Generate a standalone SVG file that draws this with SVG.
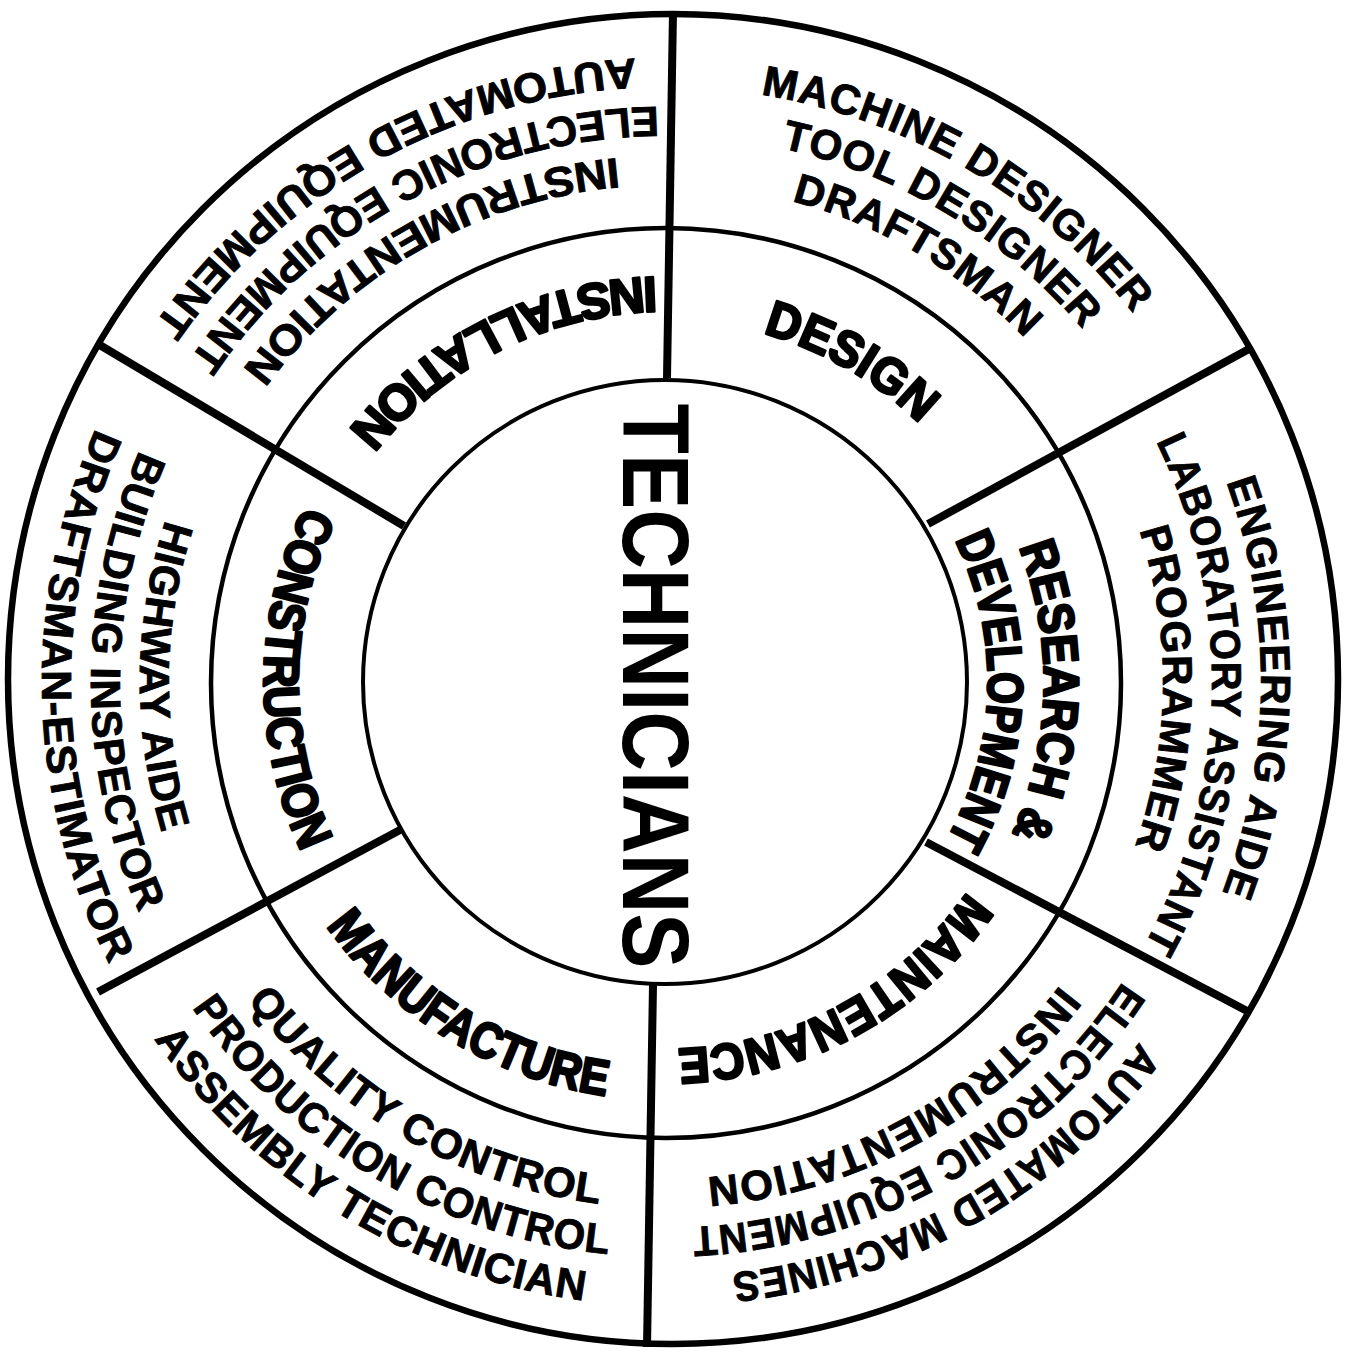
<svg xmlns="http://www.w3.org/2000/svg" width="1345" height="1356" viewBox="0 0 1345 1356">
<style>
.ring{fill:none;stroke:#000}
.div{stroke:#000;stroke-width:8;stroke-linecap:butt}
.job{font-family:"Liberation Sans",Arial,sans-serif;font-weight:bold;font-size:42px;fill:#000;stroke:#000;stroke-width:0.9;letter-spacing:1px}
.lab{font-family:"Liberation Sans",Arial,sans-serif;font-weight:bold;font-size:50px;fill:#000;stroke:#000;stroke-width:2.6;stroke-linejoin:round}
.title{font-family:"Liberation Sans",Arial,sans-serif;font-weight:bold;font-size:95px;fill:#000}
</style>
<defs>
<path id="cw595" d="M80.04,578.68 A595,595 0 0 1 1251.96,578.68"/>
<path id="cw546" d="M128.29,587.19 A546,546 0 0 1 1203.71,587.19"/>
<path id="cw497" d="M176.55,595.70 A497,497 0 0 1 1155.45,595.70"/>
<path id="ccw526" d="M1184.01,590.66 A526,526 0 0 0 147.99,590.66"/>
<path id="ccw575" d="M1232.27,582.15 A575,575 0 0 0 99.73,582.15"/>
<path id="ccw624" d="M1280.52,573.64 A624,624 0 0 0 51.48,573.64"/>
<path id="cw362" d="M309.50,619.14 A362,362 0 0 1 1022.50,619.14"/>
<path id="cw378" d="M293.74,616.36 A378,378 0 0 1 1038.26,616.36"/>
<path id="cw322" d="M348.89,626.08 A322,322 0 0 1 983.11,626.08"/>
<path id="cw367" d="M304.57,618.27 A367,367 0 0 1 1027.43,618.27"/>
<path id="ccw418" d="M1077.65,609.41 A418,418 0 0 0 254.35,609.41"/>
<path id="ccw402" d="M1061.89,612.19 A402,402 0 0 0 270.11,612.19"/>
<path id="ccw405" d="M1064.85,611.67 A405,405 0 0 0 267.15,611.67"/>
</defs>
<rect width="1345" height="1356" fill="#fff"/>
<g id="rings">
<circle class="ring" cx="673" cy="679" r="665" stroke-width="6.5"/>
<circle class="ring" cx="666" cy="683" r="455" stroke-width="4.5"/>
<circle class="ring" cx="665" cy="682" r="302" stroke-width="4"/>
</g>
<g id="connectors">
<line class="div" x1="667" y1="378" x2="673" y2="12"/>
<line class="div" x1="928" y1="524" x2="1249" y2="349"/>
<line class="div" x1="926" y1="842" x2="1249" y2="1012"/>
<line class="div" x1="653" y1="985" x2="647" y2="1347"/>
<line class="div" x1="400" y1="830" x2="98" y2="992"/>
<line class="div" x1="404" y1="526" x2="98" y2="344"/>
</g>
<g id="center">
<text class="title" transform="translate(623,686) rotate(90)" text-anchor="middle" textLength="565" lengthAdjust="spacingAndGlyphs">TECHNICIANS</text>
</g>
<g id="design">
<text class="lab" text-anchor="middle" transform="rotate(30 666 682)"><textPath href="#cw362" startOffset="50%" textLength="183" lengthAdjust="spacingAndGlyphs">DESIGN</textPath></text>
<text class="job" text-anchor="middle" transform="rotate(30.5 666 682)"><textPath href="#cw595" startOffset="50%">MACHINE DESIGNER</textPath></text>
<text class="job" text-anchor="middle" transform="rotate(31 666 682)"><textPath href="#cw546" startOffset="50%">TOOL DESIGNER</textPath></text>
<text class="job" text-anchor="middle" transform="rotate(30.5 666 682)"><textPath href="#cw497" startOffset="50%">DRAFTSMAN</textPath></text>
</g>
<g id="research">
<text class="lab" text-anchor="middle" transform="rotate(91.4 666 682)"><textPath href="#cw378" startOffset="50%" textLength="295" lengthAdjust="spacingAndGlyphs">RESEARCH &amp;</textPath></text>
<text class="lab" text-anchor="middle" transform="rotate(91.6 666 682)"><textPath href="#cw322" startOffset="50%" textLength="312" lengthAdjust="spacingAndGlyphs">DEVELOPMENT</textPath></text>
<text class="job" text-anchor="middle" transform="rotate(90.6 666 682)"><textPath href="#cw595" startOffset="50%">ENGINEERING AIDE</textPath></text>
<text class="job" text-anchor="middle" transform="rotate(91.4 666 682)"><textPath href="#cw546" startOffset="50%" textLength="525" lengthAdjust="spacingAndGlyphs">LABORATORY ASSISTANT</textPath></text>
<text class="job" text-anchor="middle" transform="rotate(90.8 666 682)"><textPath href="#cw497" startOffset="50%">PROGRAMMER</textPath></text>
</g>
<g id="maintenance">
<text class="lab" text-anchor="middle" transform="rotate(151.5 666 682)"><textPath href="#cw367" startOffset="50%" textLength="342" lengthAdjust="spacingAndGlyphs">MAINTENANCE</textPath></text>
<text class="job" text-anchor="middle" transform="rotate(150.5 666 682)"><textPath href="#cw595" startOffset="50%" textLength="483" lengthAdjust="spacingAndGlyphs">AUTOMATED MACHINES</textPath></text>
<text class="job" text-anchor="middle" transform="rotate(150.3 666 682)"><textPath href="#cw546" startOffset="50%" textLength="515" lengthAdjust="spacingAndGlyphs">ELECTRONIC EQUIPMENT</textPath></text>
<text class="job" text-anchor="middle" transform="rotate(151.5 666 682)"><textPath href="#cw497" startOffset="50%">INSTRUMENTATION</textPath></text>
</g>
<g id="manufacture">
<text class="lab" text-anchor="middle" transform="rotate(211.3 666 682)"><textPath href="#ccw418" startOffset="50%" textLength="336" lengthAdjust="spacingAndGlyphs">MANUFACTURE</textPath></text>
<text class="job" text-anchor="middle" transform="rotate(210 666 682)"><textPath href="#ccw526" startOffset="50%">QUALITY CONTROL</textPath></text>
<text class="job" text-anchor="middle" transform="rotate(210.6 666 682)"><textPath href="#ccw575" startOffset="50%" textLength="500" lengthAdjust="spacingAndGlyphs">PRODUCTION CONTROL</textPath></text>
<text class="job" text-anchor="middle" transform="rotate(211.3 666 682)"><textPath href="#ccw624" startOffset="50%">ASSEMBLY TECHNICIAN</textPath></text>
</g>
<g id="construction">
<text class="lab" text-anchor="middle" transform="rotate(270.5 666 682)"><textPath href="#ccw402" startOffset="50%" textLength="358" lengthAdjust="spacingAndGlyphs">CONSTRUCTION</textPath></text>
<text class="job" text-anchor="middle" transform="rotate(270.6 666 682)"><textPath href="#ccw526" startOffset="50%">HIGHWAY AIDE</textPath></text>
<text class="job" text-anchor="middle" transform="rotate(270 666 682)"><textPath href="#ccw575" startOffset="50%">BUILDING INSPECTOR</textPath></text>
<text class="job" text-anchor="middle" transform="rotate(268.5 666 682)"><textPath href="#ccw624" startOffset="50%" textLength="555" lengthAdjust="spacingAndGlyphs">DRAFTSMAN-ESTIMATOR</textPath></text>
</g>
<g id="installation">
<text class="lab" text-anchor="middle" transform="rotate(333.5 666 682)"><textPath href="#ccw405" startOffset="50%" textLength="355" lengthAdjust="spacingAndGlyphs">INSTALLATION</textPath></text>
<text class="job" text-anchor="middle" transform="rotate(330.5 666 682)"><textPath href="#ccw526" startOffset="50%" textLength="445" lengthAdjust="spacingAndGlyphs">INSTRUMENTATION</textPath></text>
<text class="job" text-anchor="middle" transform="rotate(331.6 666 682)"><textPath href="#ccw575" startOffset="50%">ELECTRONIC EQUIPMENT</textPath></text>
<text class="job" text-anchor="middle" transform="rotate(331 666 682)"><textPath href="#ccw624" startOffset="50%" textLength="570" lengthAdjust="spacingAndGlyphs">AUTOMATED EQUIPMENT</textPath></text>
</g>
</svg>
